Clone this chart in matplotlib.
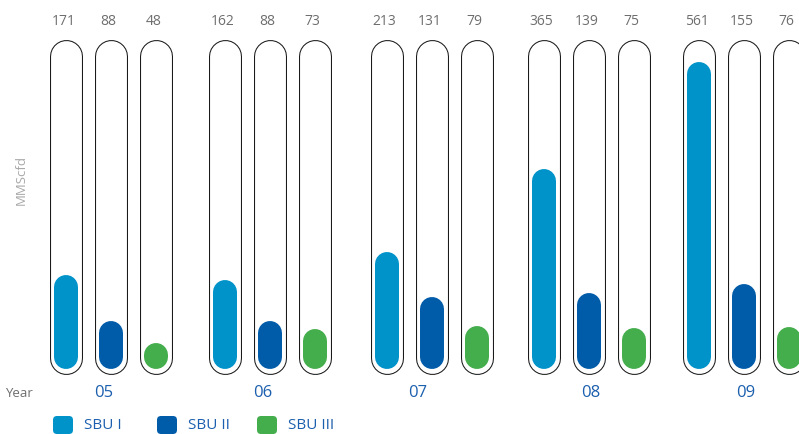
import matplotlib.pyplot as plt
from matplotlib.patches import FancyBboxPatch

years = ["05", "06", "07", "08", "09"]
series = ["SBU I", "SBU II", "SBU III"]
sbu1 = [171, 162, 213, 365, 561]
sbu2 = [88, 88, 131, 139, 155]
sbu3 = [48, 73, 79, 75, 76]

colors = ["#0093c9", "#005ca9", "#44ad4c"]
label_blue = "#1b5fae"
grey = "#6e6e6e"

plt.rcParams["font.family"] = ["Open Sans", "DejaVu Sans"]

W, H = 799, 435
fig = plt.figure(figsize=(W / 100, H / 100), dpi=100)
ax = fig.add_axes([0, 0, 1, 1])

# y in MMScfd, x in pixels; zero line sits 370 px from the top
ppu = 307 / 561.0               # pixels per MMScfd
base_px = 370
ax.set_xlim(0, W)
ax.set_ylim(-(H - base_px) / ppu, base_px / ppu)
ax.axis("off")

def v(px):
    return px / ppu

pt = 0.72  # points per pixel at 100 dpi

group_x = [110.5, 269.5, 431.5, 588.5, 743.5]
offsets = [-45, 0, 45]
year_x = [104, 263, 418, 591, 746]
tube_w, fill_w = 33, 24
tube_top = v(base_px - 40)

values = [sbu1, sbu2, sbu3]
for g, gx in enumerate(group_x):
    for s in range(3):
        x = gx + offsets[s]
        val = values[s][g]
        # outlined tube
        y0 = v(-5 + tube_w / 2)
        y1 = tube_top - v(tube_w / 2)
        ax.plot([x, x], [y0, y1], color="#1a1a1a", lw=tube_w * pt,
                solid_capstyle="round", zorder=1)
        ax.plot([x, x], [y0, y1], color="white", lw=(tube_w - 2.1) * pt,
                solid_capstyle="round", zorder=2)
        # filled pill
        f0 = v(fill_w / 2)
        f1 = max(val - v(fill_w / 2), f0)
        ax.plot([x, x], [f0, f1], color=colors[s], lw=fill_w * pt,
                solid_capstyle="round", zorder=3)
        ax.text(x - 2, v(base_px - 22), str(val), ha="center", va="center",
                fontsize=10, color=grey)
    ax.text(year_x[g], v(base_px - 393), years[g], ha="center", va="center",
            fontsize=12, color=label_blue)

ax.text(5, v(base_px - 394), "Year", ha="left", va="center", fontsize=9.5,
        color=grey)
ax.text(21, v(base_px - 180), "MMScfd", ha="center", va="center",
        rotation=90, fontsize=9.5, color="#a8a8a8")

# legend
leg_x = [53, 157, 257]
leg_y = v(base_px - 426)
for s in range(3):
    box = FancyBboxPatch((leg_x[s] + 4, leg_y - v(5)), 12, v(10),
                         boxstyle="round,pad=4", mutation_aspect=1 / ppu,
                         fc=colors[s], ec="none", clip_on=False)
    ax.add_patch(box)
    ax.text(leg_x[s] + 31, leg_y, series[s], ha="left", va="center",
            fontsize=11, color=label_blue)

fig.savefig("out.png", dpi=100)
